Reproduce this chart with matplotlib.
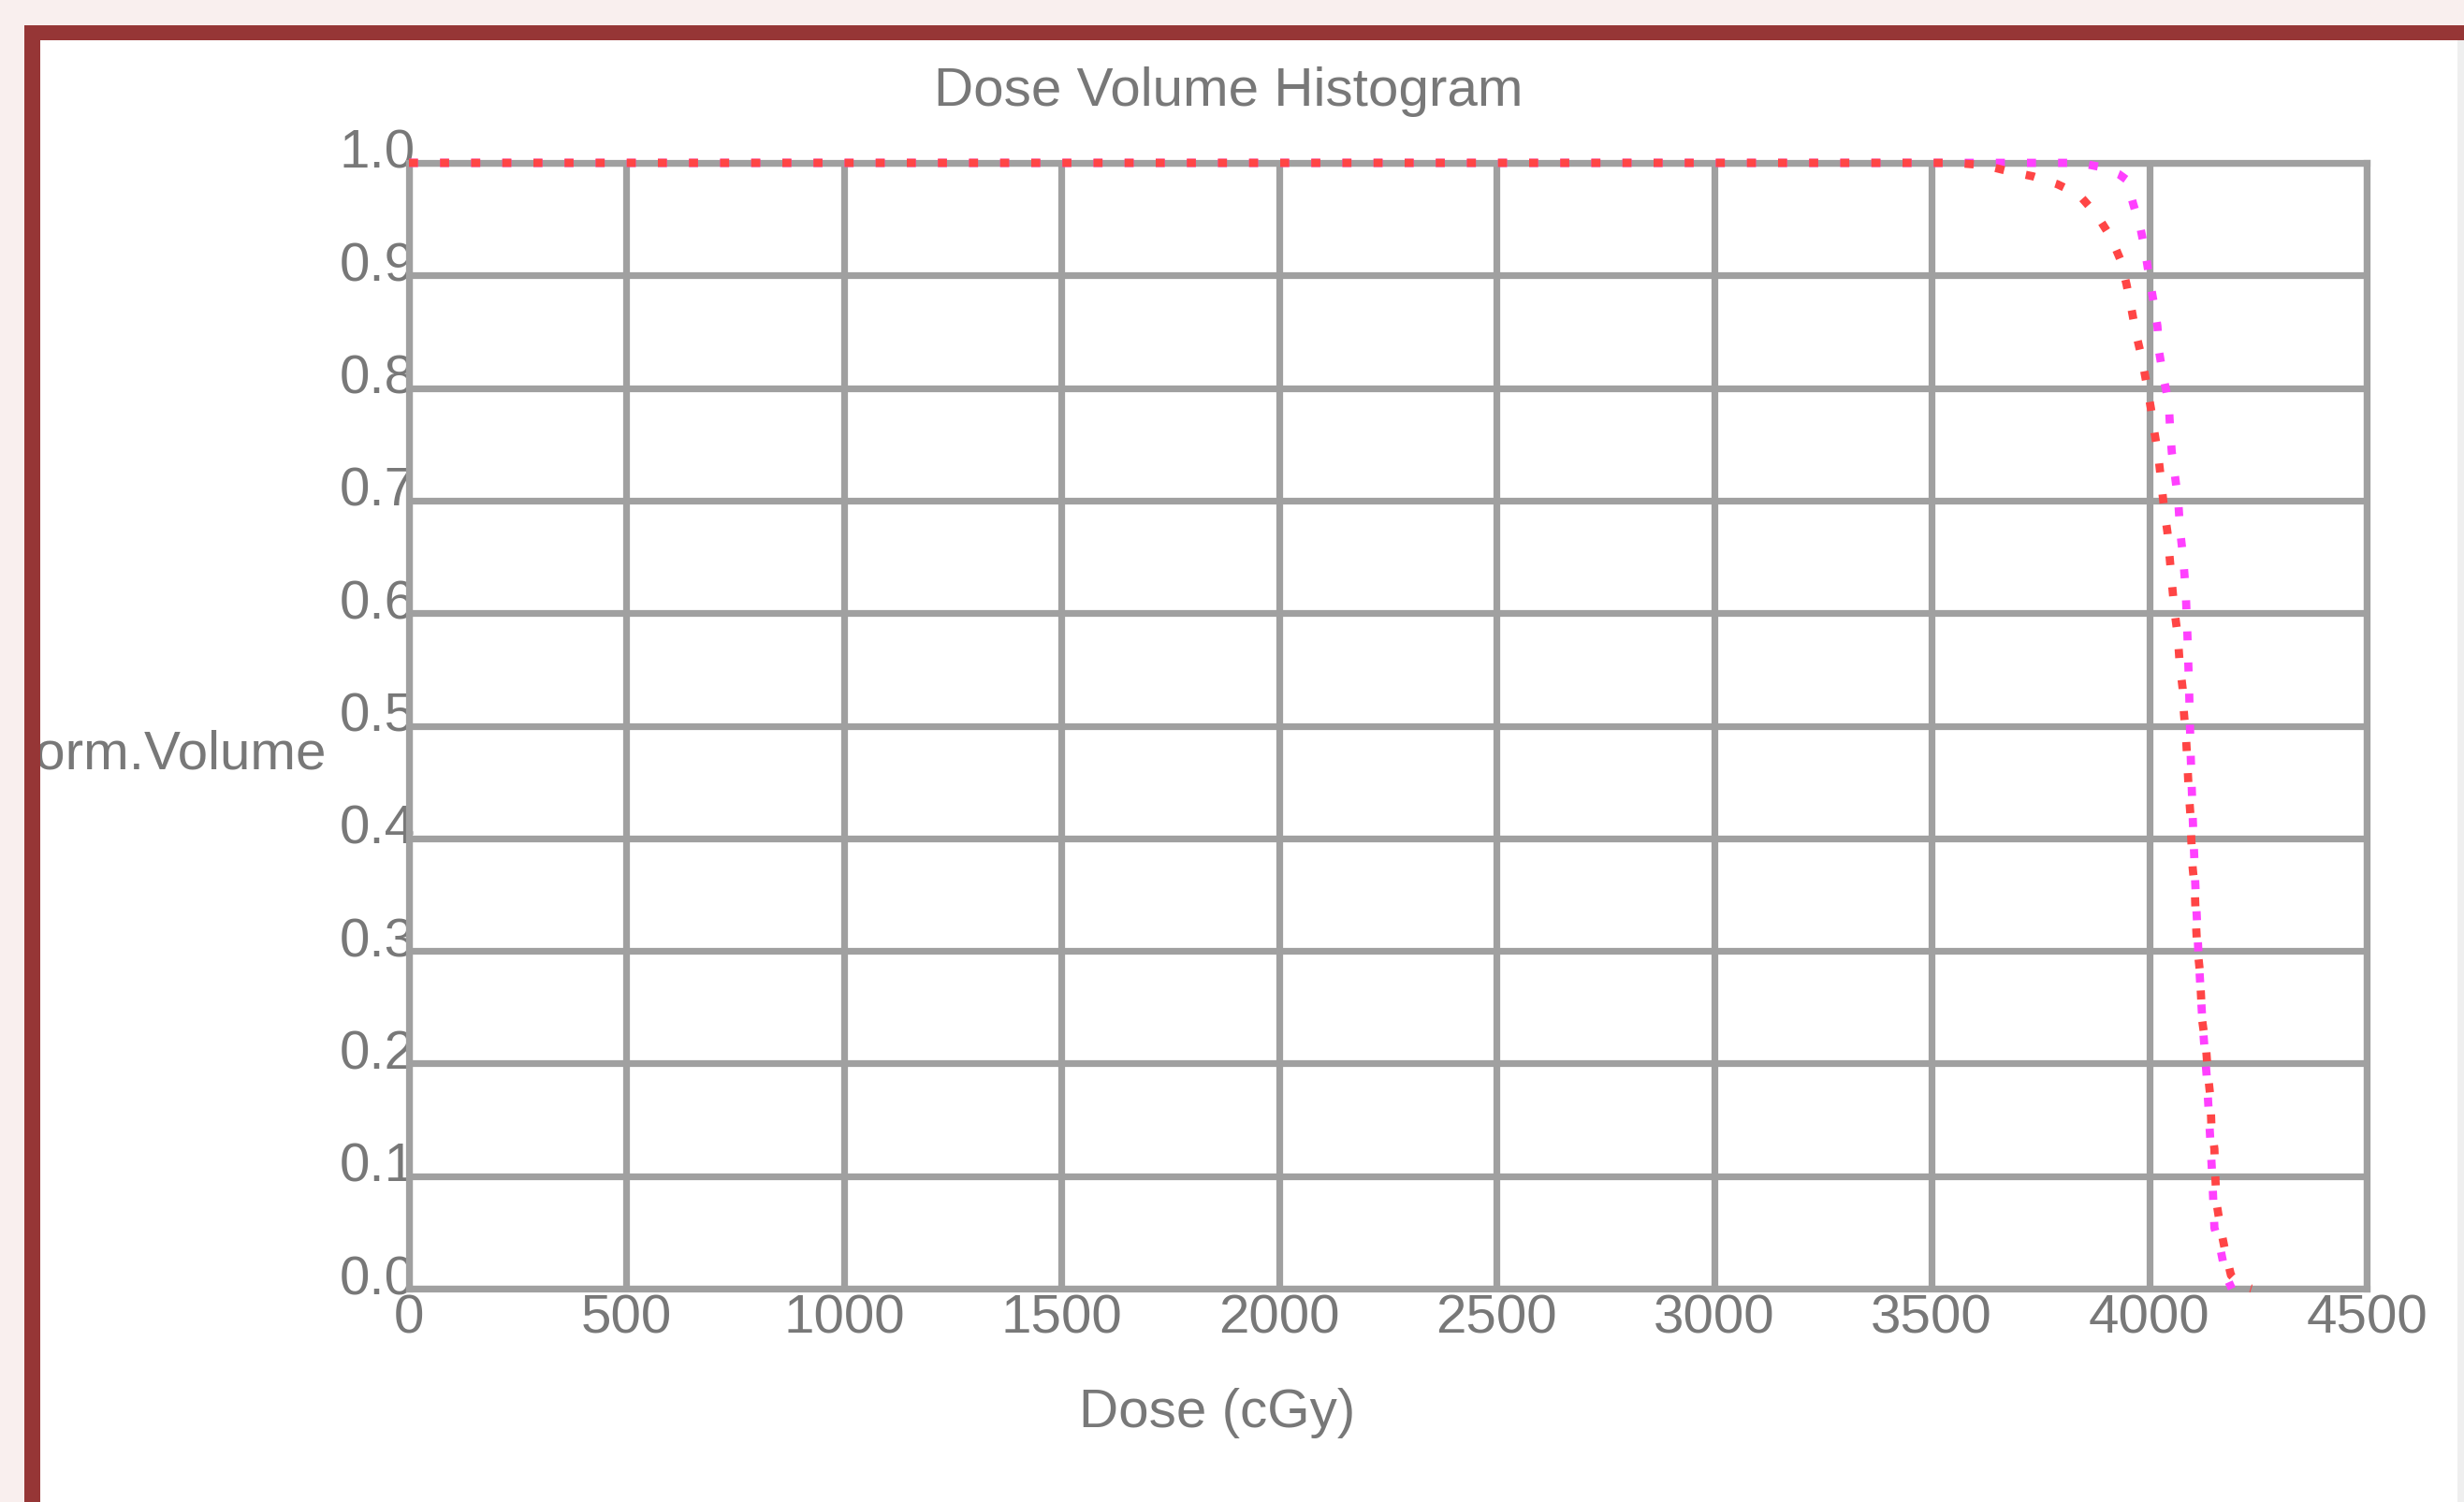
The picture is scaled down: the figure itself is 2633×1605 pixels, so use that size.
import matplotlib
matplotlib.use("Agg")
from matplotlib import pyplot as plt
from matplotlib.patches import Rectangle
from matplotlib.transforms import ScaledTranslation

plt.rcParams['font.family'] = ['Liberation Sans', 'DejaVu Sans']

# DVH curves (dose in cGy, normalised volume)
red_dose = [0, 3550, 3620, 3672, 3733, 3789, 3838, 3879, 3912, 3935, 3948, 3959,
            3970, 3983, 3993, 4004, 4012, 4021, 4028, 4034, 4042, 4047, 4053,
            4058, 4066, 4070, 4077, 4080, 4085, 4088, 4091, 4095, 4097, 4100,
            4105, 4107, 4110, 4116, 4119, 4122, 4131, 4135, 4141, 4143, 4150,
            4152, 4155, 4164, 4175, 4188, 4210, 4235]
red_vol = [1.0, 1.0, 0.998, 0.993, 0.988, 0.981, 0.972, 0.954, 0.934, 0.913, 0.892,
           0.871, 0.848, 0.827, 0.806, 0.782, 0.761, 0.740, 0.716, 0.694, 0.672,
           0.650, 0.624, 0.603, 0.579, 0.556, 0.533, 0.511, 0.488, 0.466, 0.442,
           0.420, 0.398, 0.374, 0.354, 0.330, 0.306, 0.284, 0.262, 0.238, 0.213,
           0.191, 0.169, 0.145, 0.124, 0.100, 0.076, 0.054, 0.033, 0.012, 0.003, 0.0]

mag_dose = [0, 3840, 3892, 3930, 3948, 3963, 3980, 3991, 4000, 4010, 4019, 4023,
            4032, 4045, 4048, 4052, 4060, 4067, 4071, 4078, 4084, 4088, 4092,
            4095, 4100, 4106, 4113, 4122, 4132, 4138, 4145, 4150, 4165, 4176, 4190]
mag_vol = [1.0, 1.0, 0.996, 0.990, 0.985, 0.964, 0.942, 0.921, 0.899, 0.877, 0.855,
           0.832, 0.811, 0.787, 0.765, 0.743, 0.720, 0.699, 0.674, 0.650, 0.620,
           0.580, 0.530, 0.480, 0.420, 0.360, 0.300, 0.240, 0.190, 0.150, 0.100,
           0.054, 0.033, 0.012, 0.0]

x_ticks = [0, 500, 1000, 1500, 2000, 2500, 3000, 3500, 4000, 4500]
y_ticks = [0.0, 0.1, 0.2, 0.3, 0.4, 0.5, 0.6, 0.7, 0.8, 0.9, 1.0]

W, H = 2633, 1605
fig = plt.figure(figsize=(W / 100, H / 100), dpi=100, facecolor='white')
ax = fig.add_axes([437 / W, (H - 1377) / H, (2529 - 437) / W, (1377 - 174) / H])

grid_c = '#a0a0a0'
text_c = '#787878'
fs = 42

ax.set_xlim(0, 4500)
ax.set_ylim(0, 1.0)
ax.set_xticks(x_ticks)
ax.set_yticks(y_ticks)
ax.set_xticklabels([str(t) for t in x_ticks])
ax.set_yticklabels(['%.1f' % t for t in y_ticks])
ax.grid(True, color=grid_c, linewidth=5.2, zorder=1)
ax.set_axisbelow(True)
for s in ax.spines.values():
    s.set_color(grid_c)
    s.set_linewidth(5.2)
ax.tick_params(length=0, labelsize=fs, labelcolor=text_c)
ax.tick_params(axis='x', pad=4)
ax.tick_params(axis='y', pad=-5)

for lab in ax.get_yticklabels():
    lab.set_va('baseline')
    lab.set_transform(lab.get_transform() + ScaledTranslation(0, -0.06, fig.dpi_scale_trans))

ax.plot(mag_dose, mag_vol, color='#ff40ff', linewidth=6.3,
        linestyle=(0, (1.1, 2.7)), dash_capstyle='butt', clip_on=False, zorder=3)
ax.plot(red_dose, red_vol, color='#ff4545', linewidth=6.3,
        linestyle=(0, (1.1, 2.7)), dash_capstyle='butt', clip_on=False, zorder=4)

fig.text(1313 / W, (H - 113) / H, 'Dose Volume Histogram', ha='center',
         va='baseline', fontsize=fs, color=text_c)
fig.text(1301 / W, (H - 1525) / H, 'Dose (cGy)', ha='center',
         va='baseline', fontsize=fs, color=text_c)
fig.text(349 / W, (H - 822) / H, 'Norm.Volume', ha='right',
         va='baseline', fontsize=fs, color=text_c)

# page frame: pink margin, dark red border, thin grey edge on the right
pink = '#f9efee'
border = '#963636'
def frame_rect(x0, y0, x1, y1, c):
    fig.add_artist(Rectangle((x0 / W, (H - y1) / H), (x1 - x0) / W, (y1 - y0) / H,
                             transform=fig.transFigure, facecolor=c,
                             edgecolor='none', zorder=20))

frame_rect(0, 0, W, 27, pink)
frame_rect(0, 0, 26, H, pink)
frame_rect(26, 27, W, 43, border)
frame_rect(26, 27, 43, H, border)
frame_rect(2626, 43, W, H, '#efefef')

fig.savefig('out.png', dpi=100, facecolor='white')
